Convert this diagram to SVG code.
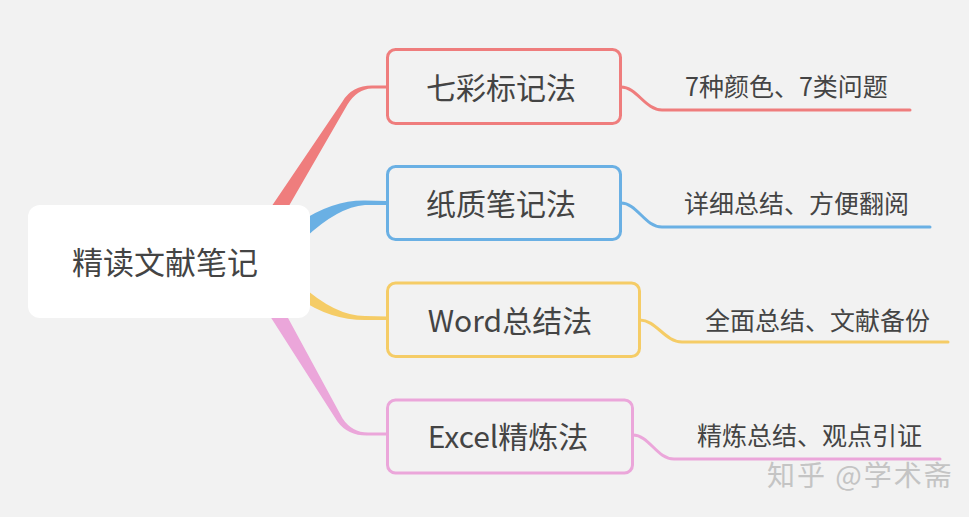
<svg xmlns="http://www.w3.org/2000/svg" width="969" height="517" viewBox="0 0 969 517">
<style>
  .node { stroke-width: 3; fill: #F2F2F2; }
  .t { font-family: "Noto Sans CJK SC", "Noto Sans", sans-serif; fill: #444444; }
  .nt { font-size: 30px; text-anchor: middle; }
  .lt { font-size: 25px; }
  .leaf { fill: none; stroke-width: 3; stroke-linecap: round; }
  .red { stroke: #EF7D7D; }
  .blue { stroke: #6AB0E4; }
  .yellow { stroke: #F5CC66; }
  .pink { stroke: #EBA6DA; }
</style>
<rect x="0" y="0" width="969" height="517" fill="#F2F2F2"/>
<g id="connectors">
  <!-- main branches (tapered) -->
  <path fill="#EF7D7D" d="M261,222 L342.5,101.4 Q352,85.5 372,85.5 L387,85.5 L387,88.5 L372,88.5 Q357,89 347.5,104.6 L275,230 Z"/>
  <path fill="#6AB0E4" d="M300,222 Q333,200 365,200.5 L387,201 L387,205 L365,205 Q338,207 305,238 Z"/>
  <path fill="#F5CC66" d="M300,284 Q335,316 365,316 L387,316.5 L387,320 L365,320 Q330,320 300,299 Z"/>
  <path fill="#EBA6DA" d="M275,294 L342.6,418.5 Q352,432.5 368,432.5 L387,432.5 L387,435.5 L368,435.5 Q348,436 337.4,421.5 L261,302 Z"/>
  <!-- leaf connectors -->
  <path class="leaf red" d="M621,87 C637,87 645,110 662,110 L910,110"/>
  <path class="leaf blue" d="M621,203 C637,203 645,227 662,227 L930,227"/>
  <path class="leaf yellow" d="M640,320 C656,320 665,342 682,342 L948,342"/>
  <path class="leaf pink" d="M633,435 C649,435 657,459 674,459 L940,459"/>
</g>
<g id="root">
  <rect x="28" y="205" width="282" height="113" rx="12" fill="#FFFFFF"/>
  <text class="t" x="165" y="274" font-size="31" text-anchor="middle">精读文献笔记</text>
</g>
<g id="node1">
  <rect class="node red" x="387.5" y="49.5" width="233" height="74" rx="8"/>
  <text class="t nt" x="501" y="99">七彩标记法</text>
</g>
<g id="node2">
  <rect class="node blue" x="387.5" y="166.5" width="233" height="73" rx="8"/>
  <text class="t nt" x="501" y="215">纸质笔记法</text>
</g>
<g id="node3">
  <rect class="node yellow" x="387.5" y="283" width="252" height="73.5" rx="8"/>
  <text class="t nt" x="510" y="332">Word总结法</text>
</g>
<g id="node4">
  <rect class="node pink" x="387.5" y="400" width="245" height="73" rx="8"/>
  <text class="t nt" x="508" y="448">Excel精炼法</text>
</g>
<g id="leaf1"><text class="t lt" x="685" y="96">7种颜色、7类问题</text></g>
<g id="leaf2"><text class="t lt" x="684" y="213">详细总结、方便翻阅</text></g>
<g id="leaf3"><text class="t lt" x="705" y="330">全面总结、文献备份</text></g>
<g id="leaf4"><text class="t lt" x="697" y="445">精炼总结、观点引证</text></g>
<text x="767" y="486" font-family="Noto Sans CJK SC, Noto Sans, sans-serif" font-size="28" letter-spacing="2" fill="#C4C4C4">知乎 @学术斋</text>
</svg>
